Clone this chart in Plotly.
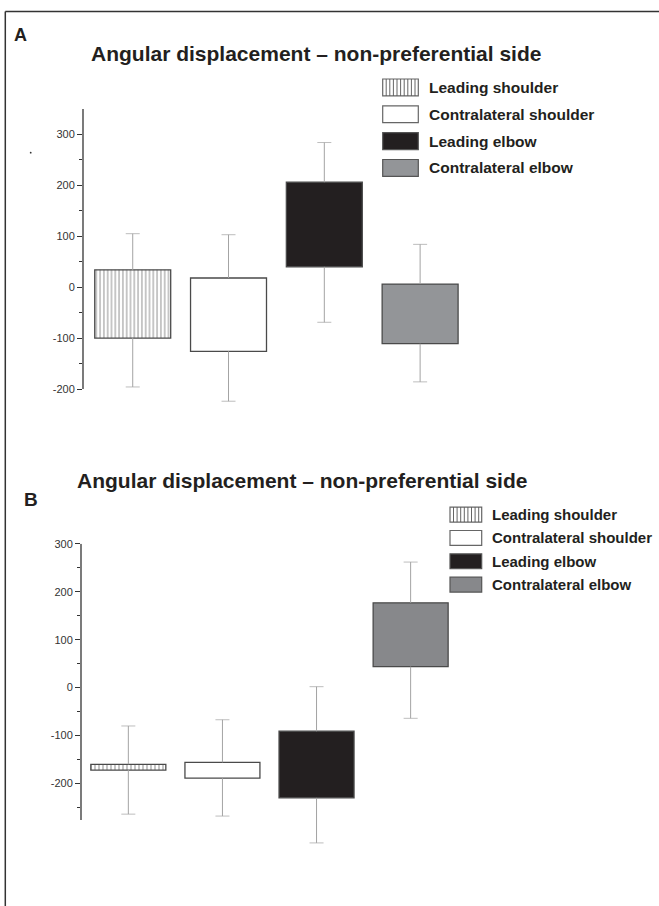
import plotly.graph_objects as go

W, H = 659, 906

# ---------------- data ----------------
categories = ["Leading shoulder", "Contralateral shoulder", "Leading elbow", "Contralateral elbow"]
title_text = "Angular displacement \u2013 non-preferential side"

a_box_top = [34, 18, 206, 6]
a_box_bottom = [-100, -126, 40, -111]
a_whisker_top = [105, 103, 284, 84]
a_whisker_bottom = [-196, -224, -69, -186]

b_box_top = [-160, -156, -91, 177]
b_box_bottom = [-172, -189, -230, 44]
b_whisker_top = [-80, -67, 2, 262]
b_whisker_bottom = [-264, -268, -324, -64]

a_major_ticks = [-200, -100, 0, 100, 200, 300]
a_tick_labels = ["-200", "-100", "0", "100", "200", "300"]
a_minor_ticks = [-150, -50, 50, 150, 250]
b_major_ticks = [-200, -100, 0, 100, 200, 300]
b_tick_labels = ["-200", "-100", "0", "100", "200", "300"]
b_minor_ticks = [-250, -150, -50, 50, 150, 250]
a_axis_extent = [-200, 350]
b_axis_extent = [-276, 300]

# ---------------- styles ----------------
DARK = "#231f20"
EDGE = "#4a4a4a"
WHISK = "#a3a3a3"
FONT = "Liberation Sans"
fills = {
    "A": ["white", "white", "#231f20", "#939598"],
    "B": ["white", "white", "#231f20", "#87888b"],
}
patterns = ["|", "", "", ""]


def px(x):
    return x / W


def py(y):
    return 1 - y / H


fig = go.Figure()

panels = [
    dict(key="A", xa="x", ya="y", top=a_box_top, bot=a_box_bottom,
         wt=a_whisker_top, wb=a_whisker_bottom, width=0.793, psize=3.8),
    dict(key="B", xa="x2", ya="y2", top=b_box_top, bot=b_box_bottom,
         wt=b_whisker_top, wb=b_whisker_bottom, width=0.797, psize=4.0),
]

for p in panels:
    for i, cat in enumerate(categories):
        pat = dict(shape=patterns[i], fgcolor="#3c3c3c", bgcolor="white",
                   size=p["psize"], solidity=0.3) if patterns[i] else dict(shape="")
        fig.add_trace(go.Bar(
            x=[cat], y=[p["top"][i] - p["bot"][i]], base=[p["bot"][i]],
            width=p["width"],
            marker=dict(color=fills[p["key"]][i], pattern=pat,
                        line=dict(color=EDGE, width=1.3)),
            xaxis=p["xa"], yaxis=p["ya"], showlegend=False, name=cat))
for p in panels:
    for i, cat in enumerate(categories):
        # whiskers: line from box edge to outer end, cap marker at the outer end
        for ends in ((p["top"][i], p["wt"][i]), (p["bot"][i], p["wb"][i])):
            fig.add_trace(go.Scatter(
                x=[cat, cat], y=list(ends), mode="lines+markers",
                line=dict(color=WHISK, width=1),
                marker=dict(symbol="line-ew", size=[0, 10],
                            line=dict(color=WHISK, width=1), color=WHISK),
                xaxis=p["xa"], yaxis=p["ya"], showlegend=False, hoverinfo="skip"))

axis_common = dict(showgrid=False, zeroline=False, showline=False,
                   ticks="outside", ticklen=5, tickwidth=1.2, tickcolor="#333",
                   tickfont=dict(family=FONT, size=11, color="#333"),
                   tickmode="array")

a_x_dom = [px(83), px(477.6)]
a_y_dom = [py(403.5), py(103.6)]
b_x_dom = [px(81), px(467.1)]
b_y_dom = [py(847.8), py(541.45)]

fig.update_layout(
    width=W, height=H, margin=dict(l=0, r=0, t=0, b=0),
    paper_bgcolor="white", plot_bgcolor="rgba(0,0,0,0)",
    barmode="overlay", showlegend=False,
    xaxis=dict(domain=a_x_dom, type="category", categoryorder="array",
               categoryarray=categories, range=[-0.519, 3.6], visible=False, anchor="y"),
    yaxis=dict(domain=a_y_dom, range=[-235, 350], tickvals=a_major_ticks,
               ticktext=a_tick_labels,
               minor=dict(tickmode="array", tickvals=a_minor_ticks, ticks="outside",
                          ticklen=3, tickwidth=1.2, tickcolor="#333"),
               anchor="x", **axis_common),
    xaxis2=dict(domain=b_x_dom, type="category", categoryorder="array",
                categoryarray=categories, range=[-0.503, 3.6], visible=False, anchor="y2"),
    yaxis2=dict(domain=b_y_dom, range=[-335, 300], tickvals=b_major_ticks,
                ticktext=b_tick_labels,
                minor=dict(tickmode="array", tickvals=b_minor_ticks, ticks="outside",
                           ticklen=3, tickwidth=1.2, tickcolor="#333"),
                anchor="x2", **axis_common),
)

shapes = []
annotations = []

# axis lines
shapes.append(dict(type="line", xref="x domain", yref="y", x0=0, x1=0,
                   y0=a_axis_extent[0], y1=a_axis_extent[1],
                   line=dict(color="#333", width=1.3)))
shapes.append(dict(type="line", xref="x2 domain", yref="y2", x0=0, x1=0,
                   y0=b_axis_extent[0], y1=b_axis_extent[1],
                   line=dict(color="#333", width=1.3)))

# frame
shapes.append(dict(type="line", xref="paper", yref="paper", x0=px(5.3), x1=1,
                   y0=py(5.5), y1=py(5.5), line=dict(color="#333", width=1.5)))
shapes.append(dict(type="line", xref="paper", yref="paper", x0=px(5.3), x1=px(5.3),
                   y0=py(5.5), y1=0, line=dict(color="#333", width=1.5)))

# stray dot
shapes.append(dict(type="circle", xref="paper", yref="paper",
                   x0=px(29.8), x1=px(31.6), y0=py(148.6), y1=py(146.8),
                   fillcolor="#333", line=dict(width=0)))

# titles and panel letters
annotations.append(dict(text="<b>A</b>", x=px(12), y=py(29), xref="paper", yref="paper",
                        xanchor="left", yanchor="middle", showarrow=False,
                        font=dict(family=FONT, size=18, color=DARK)))
annotations.append(dict(text="<b>B</b>", x=px(22), y=py(497), xref="paper", yref="paper",
                        xanchor="left", yanchor="middle", showarrow=False,
                        font=dict(family=FONT, size=19, color=DARK)))
annotations.append(dict(text="<b>" + title_text + "</b>", x=px(89), y=py(48), xref="paper",
                        yref="paper", xanchor="left", yanchor="middle", showarrow=False,
                        font=dict(family=FONT, size=21, color=DARK)))
annotations.append(dict(text="<b>" + title_text + "</b>", x=px(75), y=py(478), xref="paper",
                        yref="paper", xanchor="left", yanchor="middle", showarrow=False,
                        font=dict(family=FONT, size=21, color=DARK)))

# legends (manual swatches)
legends = [
    dict(key="A", rows=[82, 109, 136, 163], x0=382.7, x1=418.3, h=17, tx=427, fs=15.5),
    dict(key="B", rows=[512, 535.5, 559, 582.5], x0=450, x1=481.7, h=15, tx=490, fs=15),
]
for lg in legends:
    for i, cat in enumerate(categories):
        cy = lg["rows"][i]
        y0, y1 = cy - lg["h"] / 2, cy + lg["h"] / 2
        outline = "#666" if i < 2 else "#555"
        shapes.append(dict(type="rect", xref="paper", yref="paper",
                           x0=px(lg["x0"]), x1=px(lg["x1"]), y0=py(y1), y1=py(y0),
                           fillcolor=fills[lg["key"]][i],
                           line=dict(color=outline, width=1.2)))
        if patterns[i] == "|":
            path = ""
            xx = lg["x0"] + 3.5
            while xx < lg["x1"] - 1:
                path += f"M{px(xx)},{py(y0)} L{px(xx)},{py(y1)} "
                xx += 3.6
            shapes.append(dict(type="path", xref="paper", yref="paper", path=path,
                               line=dict(color="#555", width=0.9)))
        annotations.append(dict(text="<b>" + cat + "</b>", x=px(lg["tx"]), y=py(cy),
                                xref="paper", yref="paper", xanchor="left",
                                yanchor="middle", showarrow=False,
                                font=dict(family=FONT, size=lg["fs"], color=DARK)))

fig.update_layout(shapes=shapes, annotations=annotations)
fig.write_html("out.html", config={"displayModeBar": False},
               post_script="document.body.style.margin='0';document.body.style.padding='0';")
